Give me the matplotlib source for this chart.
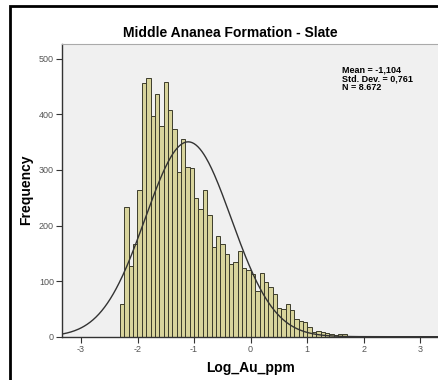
import numpy as np
import matplotlib
matplotlib.use("Agg")
import matplotlib.pyplot as plt
from matplotlib.patches import Rectangle

# ── Data ──────────────────────────────────────────────────────────────────────
bin_start = -2.31
bin_width = 0.0771
counts = [59, 234, 128, 166, 264, 456, 466, 397, 436, 379, 459, 408, 373, 297,
          356, 305, 303, 250, 229, 264, 218, 161, 182, 167, 149, 131, 134, 155,
          124, 120, 112, 82, 114, 99, 89, 76, 52, 50, 58, 48, 32, 29, 26, 18,
          9, 11, 8, 6, 4, 3, 4, 4, 1, 1, 0, 1, 0, 2, 2]
mean_val = -1.104
std_val = 0.761
n_val = 8672
x_ticks = [-3, -2, -1, 0, 1, 2, 3]
y_ticks = [0, 100, 200, 300, 400, 500]

W, H = 439, 380
plt.rcParams["font.family"] = ["Liberation Sans", "DejaVu Sans"]
plt.rcParams["axes.unicode_minus"] = False
fig = plt.figure(figsize=(W / 100, H / 100), dpi=100, facecolor="white")

# axes placed in pixel terms
left, right, top, bottom = 62.3, 439.5, 43.7, 336.7
ax = fig.add_axes([left / W, 1 - bottom / H, (right - left) / W, (bottom - top) / H])
ax.set_facecolor("#f0f0f0")

edges = bin_start + bin_width * np.arange(len(counts))
ax.bar(edges, counts, width=bin_width, align="edge", color="#d8d49c",
       edgecolor="#3c3c2c", linewidth=0.7, zorder=2)

# normal curve from the reported stats
xs = np.linspace(-3.4, 3.4, 400)
ys = n_val * bin_width / (std_val * np.sqrt(2 * np.pi)) * np.exp(-0.5 * ((xs - mean_val) / std_val) ** 2)
ax.plot(xs, ys, color="#333333", linewidth=1.0, zorder=3)

ax.set_xlim(-3.33, 3.34)
ax.set_ylim(0, 527)
ax.set_xticks(x_ticks)
ax.set_yticks(y_ticks)
ax.tick_params(direction="out", length=4, width=0.8, colors="#333333",
               labelcolor="#555555", labelsize=6.5, pad=2)
for side in ("left", "bottom"):
    ax.spines[side].set_color("#333333")
    ax.spines[side].set_linewidth(1.0)
ax.spines["top"].set_color("#aaaaaa")
ax.spines["top"].set_linewidth(0.8)
ax.spines["right"].set_visible(False)

ax.set_xlabel("Log_Au_ppm", fontsize=10, fontweight="bold", labelpad=5)
ax.set_ylabel("Frequency", fontsize=10, fontweight="bold", labelpad=4)

fig.text(230 / W, 1 - 33 / H, "Middle Ananea Formation - Slate", ha="center",
         va="center", fontsize=10, fontweight="bold")

stats = "Mean = -1,104\nStd. Dev. = 0,761\nN = 8.672"
fig.text(342.5 / W, 1 - 66 / H, stats, ha="left", va="top", fontsize=6.5,
         fontweight="bold", linespacing=0.9,
         family=["Liberation Sans Narrow", "Liberation Sans", "DejaVu Sans"])

# outer frame (runs off the right and bottom edges)
fig.patches.append(Rectangle((10.5 / W, -0.1), 1.0, 1.1 - 5.5 / H, transform=fig.transFigure,
                             fill=False, edgecolor="black", linewidth=2.0))

fig.savefig("out.png", dpi=100, facecolor="white")
